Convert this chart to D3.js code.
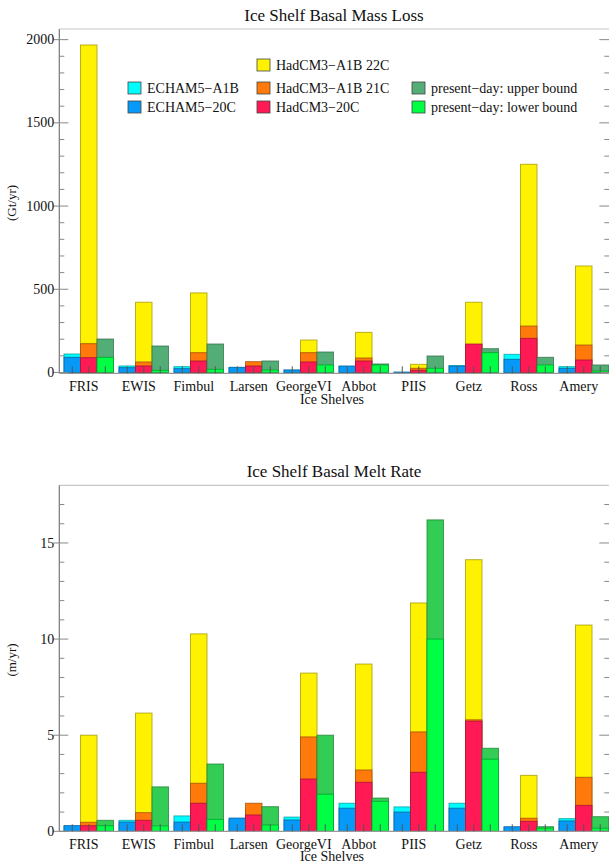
<!DOCTYPE html>
<html>
<head>
<meta charset="utf-8">
<script src="https://cdn.jsdelivr.net/npm/d3@7"></script>
<style>
  body { margin: 0; background: #fff; }
  svg text { font-family: "Liberation Serif", "DejaVu Serif", serif; fill: #111; }
</style>
</head>
<body>
<svg id="chart" width="609" height="863"></svg>
<script>
const shelves = ['FRIS', 'EWIS', 'Fimbul', 'Larsen', 'GeorgeVI', 'Abbot', 'PIIS', 'Getz', 'Ross', 'Amery'];

// Ice shelf basal mass loss (Gt/yr)
const massEchamA1B = [111, 39, 35, 28, 14, 36, 1, 41, 109, 35];
const massEcham20C = [91, 29, 23, 31, 15, 39, 2, 39, 79, 25];
const massHad22C = [1968, 422, 478, 40, 195, 241, 49, 422, 1251, 640];
const massHad21C = [173, 63, 119, 65, 119, 87, 25, 168, 279, 165];
const massHad20C = [89, 39, 69, 39, 63, 69, 13, 171, 205, 75];
const massPdUpper = [201, 159, 171, 69, 123, 51, 99, 143, 91, 45];
const massPdLower = [91, 13, 19, 15, 45, 45, 25, 119, 45, 9];

// Ice shelf basal melt rate (m/yr)
const rateEchamA1B = [0.25, 0.57, 0.8, 0.6, 0.74, 1.46, 1.27, 1.46, 0.2, 0.66];
const rateEcham20C = [0.3, 0.48, 0.48, 0.69, 0.59, 1.2, 1.0, 1.2, 0.24, 0.54];
const rateHad22C = [5.0, 6.15, 10.27, 1.2, 8.23, 8.7, 11.88, 14.13, 2.91, 10.73];
const rateHad21C = [0.47, 0.97, 2.5, 1.46, 4.91, 3.19, 5.17, 5.8, 0.68, 2.81];
const rateHad20C = [0.29, 0.57, 1.46, 0.85, 2.72, 2.55, 3.07, 5.73, 0.52, 1.35];
const ratePdUpper = [0.57, 2.31, 3.5, 1.28, 5.0, 1.73, 16.2, 4.32, 0.24, 0.76];
const ratePdLower = [0.29, 0.28, 0.62, 0.33, 1.93, 1.56, 10.0, 3.75, 0.16, 0.16];

const massTicks = [0, 500, 1000, 1500, 2000];
const rateTicks = [0, 5, 10, 15];

const colors = {
  echamA1B: '#00fcfc',
  echam20C: '#0799f7',
  had22C: '#fff200',
  had21C: '#ff7a0a',
  had20C: '#ff1a55',
  pdUpperMass: '#52ad76',
  pdUpperRate: '#33cc55',
  pdLower: '#00ff44',
};

const svg = d3.select('#chart');
const left = 59.3;
const right = 609.3;

const x = d3.scaleBand().domain(shelves).range([left, right]);
const inner = d3.scaleBand().domain(['echam', 'had', 'pd']).range([4.7, 4.7 + 49.5]);

function drawPanel(cfg) {
  const g = svg.append('g');
  const y = d3.scaleLinear().domain(cfg.domain).range([cfg.bottom, cfg.top]);

  // each bar overplots its scenarios in a fixed order (future behind, present in front)
  const groups = [
    { key: 'echam', series: [[cfg.echamA1B, colors.echamA1B], [cfg.echam20C, colors.echam20C]] },
    { key: 'had', series: [[cfg.had22C, colors.had22C], [cfg.had21C, colors.had21C], [cfg.had20C, colors.had20C]] },
    { key: 'pd', series: [[cfg.pdUpper, cfg.pdUpperColor], [cfg.pdLower, colors.pdLower]] },
  ];

  const rects = [];
  shelves.forEach((s, i) => {
    groups.forEach((grp) => {
      grp.series.forEach(([vals, c]) => rects.push({ s, key: grp.key, v: vals[i], c }));
    });
  });

  g.selectAll('rect.bar')
    .data(rects)
    .enter()
    .append('rect')
    .attr('class', 'bar')
    .attr('x', (d) => x(d.s) + inner(d.key))
    .attr('width', inner.bandwidth())
    .attr('y', (d) => y(Math.max(0, d.v)))
    .attr('height', (d) => Math.abs(y(0) - y(d.v)))
    .attr('fill', (d) => d.c)
    .attr('stroke', (d) => d3.color(d.c).darker(1.3))
    .attr('stroke-opacity', 0.75)
    .attr('stroke-width', 1);

  // frame: top and bottom lines
  g.append('line').attr('x1', left).attr('x2', right).attr('y1', cfg.top).attr('y2', cfg.top)
    .attr('stroke', '#c8c8c8').attr('stroke-width', 1.2);
  g.append('line').attr('x1', left).attr('x2', right).attr('y1', cfg.bottom).attr('y2', cfg.bottom)
    .attr('stroke', '#999').attr('stroke-width', 1.2);

  // bar-center ticks on x axis
  const xt = [];
  shelves.forEach((s) => ['echam', 'had', 'pd'].forEach((k) => xt.push(x(s) + inner(k) + inner.bandwidth() / 2)));
  g.selectAll('line.xt').data(xt).enter().append('line')
    .attr('x1', (d) => d).attr('x2', (d) => d)
    .attr('y1', cfg.bottom).attr('y2', cfg.bottom - 7)
    .attr('stroke', '#555').attr('stroke-width', 1);

  // left axis
  g.append('line').attr('x1', left).attr('x2', left).attr('y1', cfg.top).attr('y2', cfg.bottom)
    .attr('stroke', '#777').attr('stroke-width', 1.2);
  const minor = d3.range(cfg.minorStart, cfg.domain[1], cfg.minorStep).filter((v) => !cfg.ticks.includes(v));
  g.selectAll('line.ymin').data(minor).enter().append('line')
    .attr('x1', left).attr('x2', left + 5).attr('y1', (d) => y(d)).attr('y2', (d) => y(d))
    .attr('stroke', '#888');
  g.selectAll('line.ymaj').data(cfg.ticks).enter().append('line')
    .attr('x1', left - 6).attr('x2', left + 9).attr('y1', (d) => y(d)).attr('y2', (d) => y(d))
    .attr('stroke', '#888');
  // right axis ticks
  g.selectAll('line.rmin').data(minor).enter().append('line')
    .attr('x1', right - 5).attr('x2', right).attr('y1', (d) => y(d)).attr('y2', (d) => y(d))
    .attr('stroke', '#888');
  g.selectAll('line.rmaj').data(cfg.ticks).enter().append('line')
    .attr('x1', right - 10).attr('x2', right).attr('y1', (d) => y(d)).attr('y2', (d) => y(d))
    .attr('stroke', '#888');

  g.selectAll('text.ytl').data(cfg.ticks).enter().append('text')
    .attr('x', left - 5).attr('y', (d) => y(d)).attr('dy', '0.33em')
    .attr('text-anchor', 'end').style('font-size', '14px')
    .text((d) => d);

  g.selectAll('text.xtl').data(shelves).enter().append('text')
    .attr('x', (d) => x(d) + x.bandwidth() / 2 - 3)
    .attr('y', cfg.bottom + 18)
    .attr('text-anchor', 'middle').style('font-size', '14px')
    .text((d) => d);

  g.append('text').attr('x', 332).attr('y', cfg.bottom + cfg.xTitleGap)
    .attr('text-anchor', 'middle').style('font-size', '14px').text('Ice Shelves');

  g.append('text').attr('x', 334).attr('y', cfg.top - 8)
    .attr('text-anchor', 'middle').style('font-size', '17px').text(cfg.title);

  g.append('text')
    .attr('transform', `translate(16,${cfg.labelY}) rotate(-90)`)
    .attr('text-anchor', 'middle').style('font-size', '13px').text(cfg.unit);
}

drawPanel({
  title: 'Ice Shelf Basal Mass Loss',
  unit: '(Gt/yr)',
  top: 29,
  bottom: 373.3,
  labelY: 203,
  xTitleGap: 31,
  domain: [-5, 2064],
  ticks: massTicks,
  minorStart: 100,
  minorStep: 100,
  echamA1B: massEchamA1B,
  echam20C: massEcham20C,
  had22C: massHad22C,
  had21C: massHad21C,
  had20C: massHad20C,
  pdUpper: massPdUpper,
  pdLower: massPdLower,
  pdUpperColor: colors.pdUpperMass,
});

drawPanel({
  title: 'Ice Shelf Basal Melt Rate',
  unit: '(m/yr)',
  top: 485.3,
  bottom: 831.3,
  labelY: 660,
  xTitleGap: 29.5,
  domain: [0, 18],
  ticks: rateTicks,
  minorStart: 1,
  minorStep: 1,
  echamA1B: rateEchamA1B,
  echam20C: rateEcham20C,
  had22C: rateHad22C,
  had21C: rateHad21C,
  had20C: rateHad20C,
  pdUpper: ratePdUpper,
  pdLower: ratePdLower,
  pdUpperColor: colors.pdUpperRate,
});

// legend (top panel only)
const legendItems = [
  { label: 'HadCM3\u2212A1B 22C', c: colors.had22C, x: 257, y: 65 },
  { label: 'ECHAM5\u2212A1B', c: colors.echamA1B, x: 128, y: 88 },
  { label: 'HadCM3\u2212A1B 21C', c: colors.had21C, x: 257, y: 88 },
  { label: 'present\u2212day: upper bound', c: colors.pdUpperMass, x: 412, y: 88 },
  { label: 'ECHAM5\u221220C', c: colors.echam20C, x: 128, y: 107 },
  { label: 'HadCM3\u221220C', c: colors.had20C, x: 257, y: 107 },
  { label: 'present\u2212day: lower bound', c: colors.pdLower, x: 412, y: 107 },
];
const leg = svg.append('g').selectAll('g').data(legendItems).enter().append('g')
  .attr('transform', (d) => `translate(${d.x},${d.y})`);
leg.append('rect').attr('x', 0).attr('y', -6).attr('width', 13).attr('height', 12)
  .attr('fill', (d) => d.c).attr('stroke', '#444').attr('stroke-width', 0.8);
leg.append('text').attr('x', 19).attr('y', 0).attr('dy', '0.35em')
  .style('font-size', '14px').text((d) => d.label);
</script>
</body>
</html>
